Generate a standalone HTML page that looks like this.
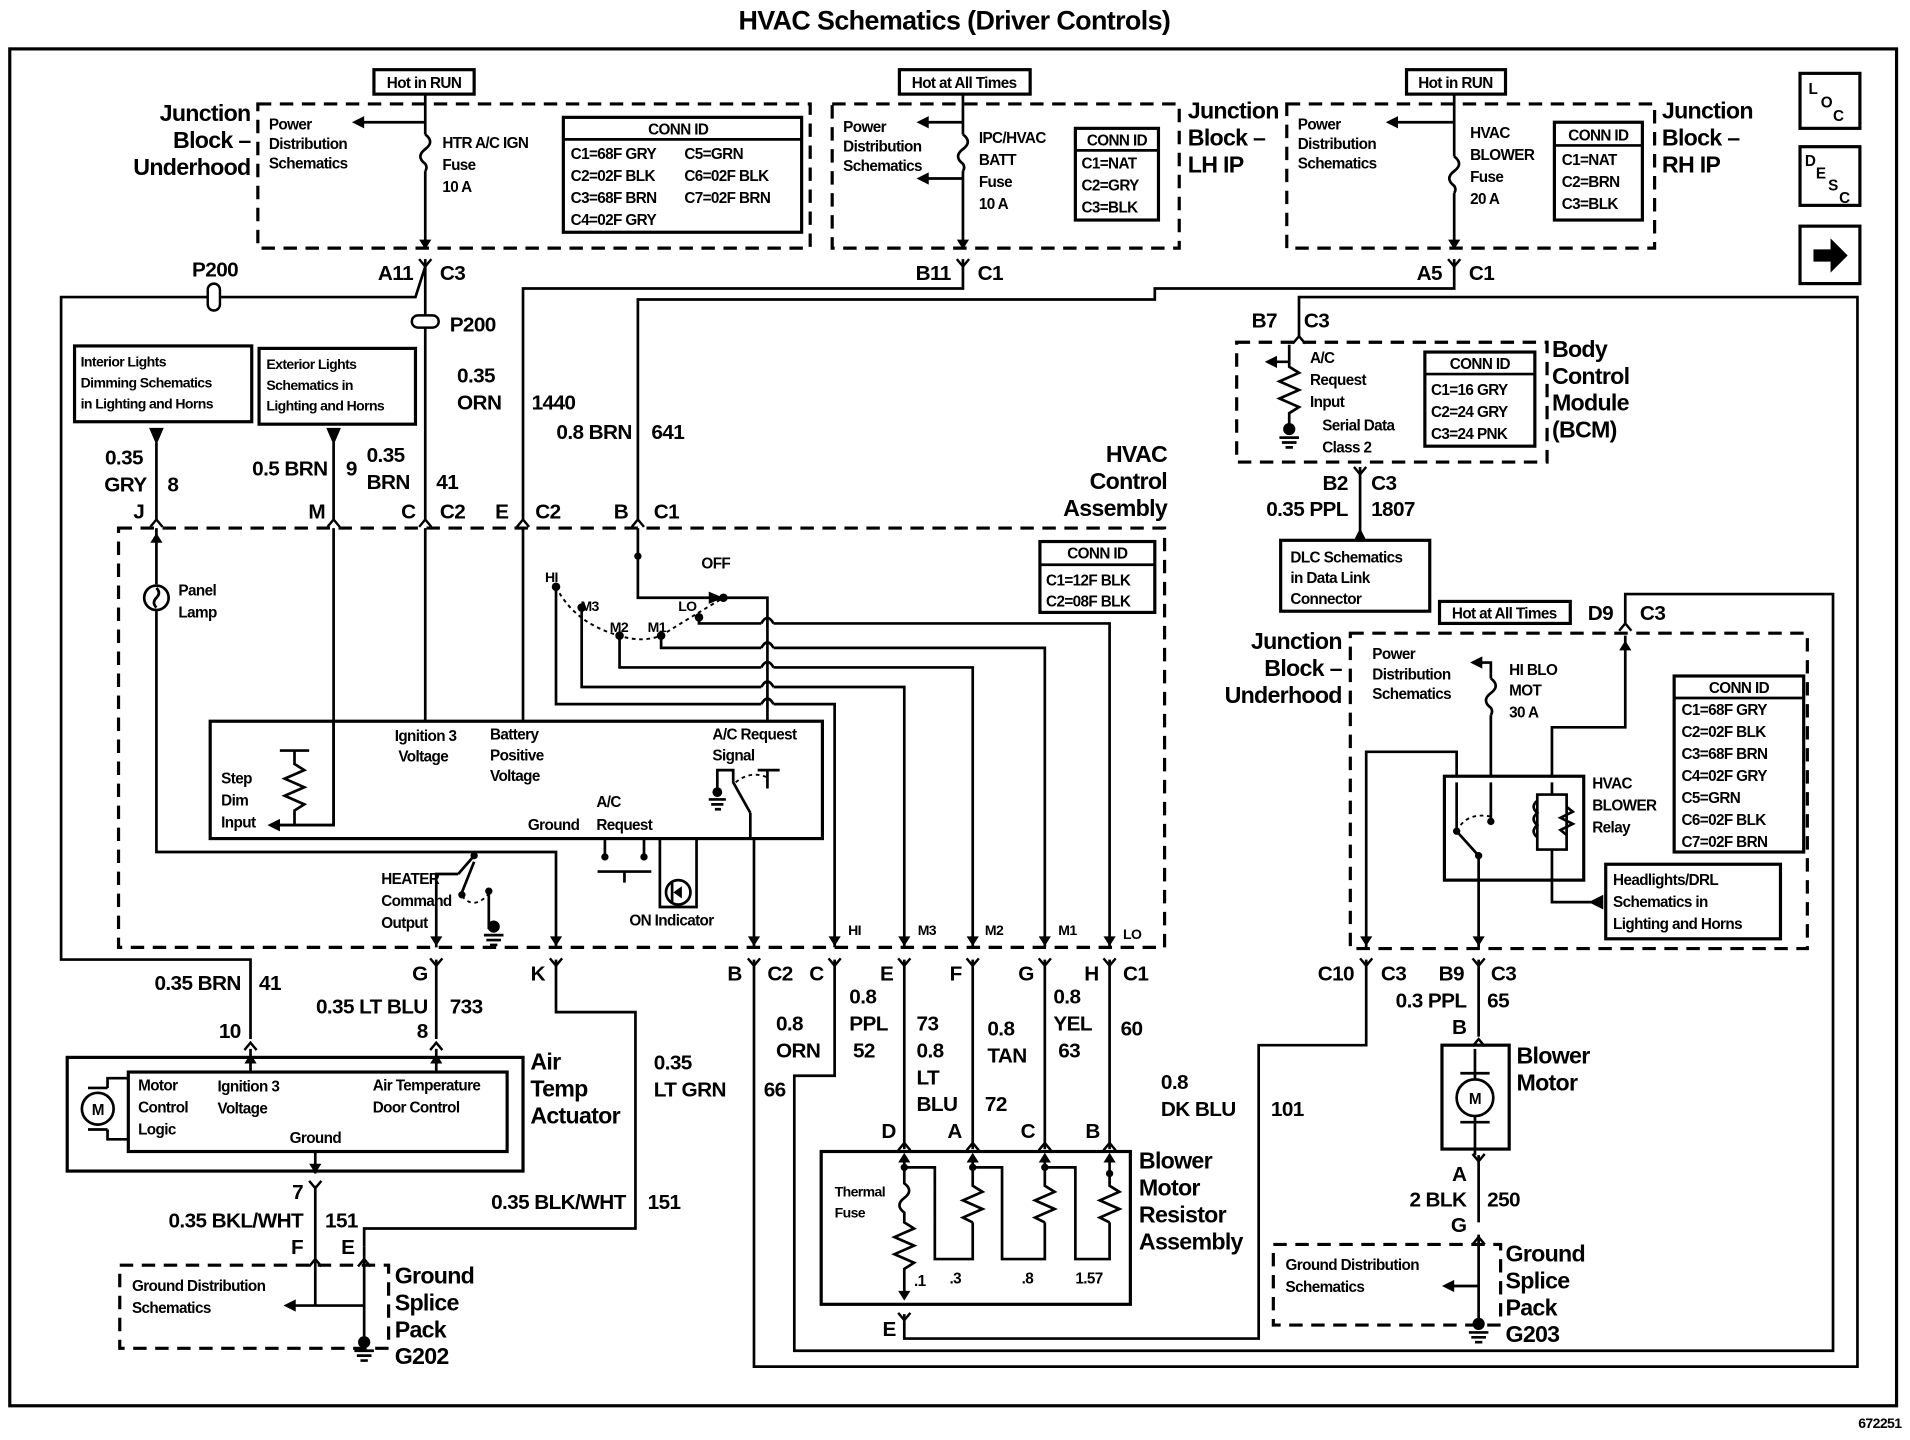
<!DOCTYPE html>
<html><head><meta charset="utf-8"><style>
html,body{margin:0;padding:0;background:#fff}
svg{display:block}
text{font-family:"Liberation Sans",Arial,sans-serif;font-weight:bold;fill:#000}
.b{font-size:19px;letter-spacing:-0.6px}
.m{font-size:17px;letter-spacing:-0.5px}
.s{font-size:12.5px;letter-spacing:-0.5px}
.x{font-size:11.5px;letter-spacing:-0.5px}
.w{fill:none;stroke:#000;stroke-width:2.2}
.d{fill:none;stroke:#000;stroke-width:2.6;stroke-dasharray:11,7}
.r{fill:none;stroke:#000;stroke-width:2.6}
.f{fill:#000}
</style></head><body>
<svg width="1910" height="1440" viewBox="0 0 1563 1178" preserveAspectRatio="none" xmlns="http://www.w3.org/2000/svg">
<defs>
<path id="cd" d="M-5,-6 L0,0 L5,-6" fill="none" stroke="#000" stroke-width="2"/>
<path id="cu" d="M-5,6 L0,0 L5,6" fill="none" stroke="#000" stroke-width="2"/>
</defs>
<text x="781" y="24" text-anchor="middle" style="font-size:22px;letter-spacing:-0.5px">HVAC Schematics (Driver Controls)</text>
<rect x="8" y="40" width="1544" height="1110" class="r" stroke-width="2"/>
<text x="1556" y="1168" text-anchor="end" class="x">672251</text>

<rect x="211" y="85" width="452" height="118" class="d"/>
<rect x="306" y="57" width="82" height="20" class="r" stroke-width="2"/>
<text x="347" y="72" text-anchor="middle" class="s">Hot in RUN</text>
<path class="w" d="M348,77 V110 M348,140 V200"/>
<path class="w" d="M348,110 q8,6 0,12 q-8,6 0,12 q2,3 0,6"/>
<path class="w" d="M348,100 H295"/><path class="f" d="M288,100 l10,-5 v10z"/>
<path class="f" d="M343,196 h10 l-5,8z"/>
<text class="s" x="220" y="106">Power</text><text class="s" x="220" y="122">Distribution</text><text class="s" x="220" y="138">Schematics</text>
<text class="s" x="362" y="121">HTR A/C IGN</text><text class="s" x="362" y="139">Fuse</text><text class="s" x="362" y="157">10 A</text>
<rect x="461" y="96" width="195" height="94" class="r"/><path class="w" d="M461,114 H656"/>
<text class="s" x="555" y="110" text-anchor="middle">CONN ID</text>
<text class="s" x="467" y="130">C1=68F GRY</text><text class="s" x="560" y="130">C5=GRN</text>
<text class="s" x="467" y="148">C2=02F BLK</text><text class="s" x="560" y="148">C6=02F BLK</text>
<text class="s" x="467" y="166">C3=68F BRN</text><text class="s" x="560" y="166">C7=02F BRN</text>
<text class="s" x="467" y="184">C4=02F GRY</text>
<text class="b" x="205" y="99" text-anchor="end">Junction</text><text class="b" x="205" y="121" text-anchor="end">Block –</text><text class="b" x="205" y="143" text-anchor="end">Underhood</text>

<rect x="681" y="85" width="284" height="118" class="d"/>
<rect x="736" y="57" width="107" height="20" class="r" stroke-width="2"/>
<text x="789" y="72" text-anchor="middle" class="s">Hot at All Times</text>
<path class="w" d="M788,77 V110 M788,140 V200 M788,100 H758 M788,146 H758"/>
<path class="w" d="M788,110 q8,6 0,12 q-8,6 0,12 q2,3 0,6"/>
<path class="f" d="M750,100 l10,-5 v10z M750,146 l10,-5 v10z M783,196 h10 l-5,8z"/>
<text class="s" x="690" y="108">Power</text><text class="s" x="690" y="124">Distribution</text><text class="s" x="690" y="140">Schematics</text>
<text class="s" x="801" y="117">IPC/HVAC</text><text class="s" x="801" y="135">BATT</text><text class="s" x="801" y="153">Fuse</text><text class="s" x="801" y="171">10 A</text>
<rect x="880" y="105" width="68" height="75" class="r"/><path class="w" d="M880,123 H948"/>
<text class="s" x="914" y="119" text-anchor="middle">CONN ID</text>
<text class="s" x="885" y="138">C1=NAT</text><text class="s" x="885" y="156">C2=GRY</text><text class="s" x="885" y="174">C3=BLK</text>
<text class="b" x="972" y="97">Junction</text><text class="b" x="972" y="119">Block –</text><text class="b" x="972" y="141">LH IP</text>

<rect x="1053" y="85" width="301" height="118" class="d"/>
<rect x="1151" y="57" width="81" height="20" class="r" stroke-width="2"/>
<text x="1191" y="72" text-anchor="middle" class="s">Hot in RUN</text>
<path class="w" d="M1190,77 V128 M1190,158 V200 M1190,100 H1142"/>
<path class="w" d="M1190,128 q8,6 0,12 q-8,6 0,12 q2,3 0,6"/>
<path class="f" d="M1134,100 l10,-5 v10z M1185,196 h10 l-5,8z"/>
<text class="s" x="1062" y="106">Power</text><text class="s" x="1062" y="122">Distribution</text><text class="s" x="1062" y="138">Schematics</text>
<text class="s" x="1203" y="113">HVAC</text><text class="s" x="1203" y="131">BLOWER</text><text class="s" x="1203" y="149">Fuse</text><text class="s" x="1203" y="167">20 A</text>
<rect x="1272" y="100" width="72" height="80" class="r"/><path class="w" d="M1272,119 H1344"/>
<text class="s" x="1308" y="115" text-anchor="middle">CONN ID</text>
<text class="s" x="1278" y="135">C1=NAT</text><text class="s" x="1278" y="153">C2=BRN</text><text class="s" x="1278" y="171">C3=BLK</text>
<text class="b" x="1360" y="97">Junction</text><text class="b" x="1360" y="119">Block –</text><text class="b" x="1360" y="141">RH IP</text>

<rect x="1473" y="60" width="49" height="45" class="r"/>
<text class="s" x="1480" y="77">L</text><text class="s" x="1490" y="88">O</text><text class="s" x="1500" y="99">C</text>
<rect x="1473" y="120" width="49" height="48" class="r"/>
<text class="s" x="1477" y="136">D</text><text class="s" x="1486" y="146">E</text><text class="s" x="1496" y="156">S</text><text class="s" x="1505" y="166">C</text>
<rect x="1473" y="185" width="49" height="47" class="r"/>
<path class="f" d="M1484,204 h14 v-9 l14,14 l-14,14 v-9 h-14z"/>

<use href="#cd" x="348" y="218"/><text class="m" x="338" y="229" text-anchor="end">A11</text><text class="m" x="360" y="229">C3</text>
<use href="#cd" x="788" y="218"/><text class="m" x="778" y="229" text-anchor="end">B11</text><text class="m" x="800" y="229">C1</text>
<use href="#cd" x="1190" y="218"/><text class="m" x="1180" y="229" text-anchor="end">A5</text><text class="m" x="1202" y="229">C1</text>

<path class="w" d="M348,212 V425 M348,218 L340,243 H50 V785 H205 V850"/>
<rect x="170" y="232" width="10" height="22" rx="5" fill="#fff" stroke="#000" stroke-width="2"/>
<text class="m" x="176" y="226" text-anchor="middle">P200</text>
<rect x="337" y="258" width="22" height="10" rx="5" fill="#fff" stroke="#000" stroke-width="2"/>
<text class="m" x="368" y="271">P200</text>
<path class="w" d="M788,212 V236 H428 V425"/>
<path class="w" d="M1190,212 V236 H945 V245 H522 V425"/>

<rect x="61" y="283" width="145" height="62" class="r"/>
<text class="x" x="66" y="300">Interior Lights</text><text class="x" x="66" y="317">Dimming Schematics</text><text class="x" x="66" y="334">in Lighting and Horns</text>
<rect x="212" y="285" width="128" height="62" class="r"/>
<text class="x" x="218" y="302">Exterior Lights</text><text class="x" x="218" y="319">Schematics in</text><text class="x" x="218" y="336">Lighting and Horns</text>
<path class="f" d="M122,350 h12 l-6,14z M267,350 h12 l-6,14z"/>
<path class="w" d="M128,362 V425 M273,362 V425"/>

<text class="m" x="117" y="380" text-anchor="end">0.35</text><text class="m" x="120" y="402" text-anchor="end">GRY</text><text class="m" x="137" y="402">8</text><text class="m" x="118" y="424" text-anchor="end">J</text>
<text class="m" x="268" y="389" text-anchor="end">0.5 BRN</text><text class="m" x="283" y="389">9</text><text class="m" x="266" y="424" text-anchor="end">M</text>
<text class="m" x="300" y="378">0.35</text><text class="m" x="300" y="400">BRN</text><text class="m" x="357" y="400">41</text><text class="m" x="340" y="424" text-anchor="end">C</text><text class="m" x="360" y="424">C2</text>
<text class="m" x="374" y="313">0.35</text><text class="m" x="374" y="335">ORN</text><text class="m" x="435" y="335">1440</text><text class="m" x="416" y="424" text-anchor="end">E</text><text class="m" x="438" y="424">C2</text>
<text class="m" x="517" y="359" text-anchor="end">0.8 BRN</text><text class="m" x="533" y="359">641</text><text class="m" x="514" y="424" text-anchor="end">B</text><text class="m" x="535" y="424">C1</text>
<use href="#cu" x="128" y="425"/><use href="#cu" x="273" y="425"/><use href="#cu" x="348" y="425"/><use href="#cu" x="428" y="425"/><use href="#cu" x="522" y="425"/>

<rect x="97" y="432" width="856" height="343" class="d"/>
<text class="b" x="955" y="378" text-anchor="end">HVAC</text><text class="b" x="955" y="400" text-anchor="end">Control</text><text class="b" x="955" y="422" text-anchor="end">Assembly</text>
<rect x="851" y="443" width="94" height="58" class="r"/><path class="w" d="M851,462 H945"/>
<text class="s" x="898" y="457" text-anchor="middle">CONN ID</text><text class="s" x="856" y="479">C1=12F BLK</text><text class="s" x="856" y="496">C2=08F BLK</text>
<path class="w" d="M128,432 V478 M128,500 V697 H455 V775"/>
<path class="f" d="M123,444 l5,-8 l5,8z"/>
<circle cx="128" cy="489" r="10" class="w"/><path class="w" d="M128,481 q4,4 0,8 q-4,4 0,8"/>
<text class="s" x="146" y="487">Panel</text><text class="s" x="146" y="505">Lamp</text>
<path class="w" d="M273,432 V675 H228"/><path class="f" d="M219,675 l10,-5 v10z"/>
<path class="w" d="M348,432 V590 M428,432 V590"/>
<path class="w" d="M522,432 V489 H592"/><circle cx="522" cy="455" r="3" class="f"/><path class="f" d="M580,484 l12,5 l-12,5z"/>
<text class="s" x="574" y="465">OFF</text>
<path class="w" d="M592,489 H628 V590"/>
<path fill="none" stroke="#000" stroke-width="1.6" stroke-dasharray="3,3" d="M455,480 Q470,510 507,520 Q525,526 541,520 Q565,505 592,489"/>
<g class="f"><circle cx="455" cy="480" r="3.5"/><circle cx="476" cy="497" r="3.5"/><circle cx="507" cy="520" r="3.5"/><circle cx="541" cy="520" r="3.5"/><circle cx="572" cy="505" r="3.5"/><circle cx="592" cy="489" r="3.5"/></g>
<text class="x" x="446" y="476">HI</text><text class="x" x="475" y="500">M3</text><text class="x" x="499" y="517">M2</text><text class="x" x="530" y="517">M1</text><text class="x" x="555" y="500">LO</text>
<path class="w" d="M572,505 V510 H623 M633,510 H908 V775"/>
<path class="w" d="M541,520 V530 H623 M633,530 H855 V775"/>
<path class="w" d="M507,520 V546 H623 M633,546 H796 V775"/>
<path class="w" d="M476,497 V562 H623 M633,562 H740 V775"/>
<path class="w" d="M455,480 V576 H623 M633,576 H683 V775"/>
<path class="w" d="M623,510 q5,-9 10,0 M623,530 q5,-9 10,0 M623,546 q5,-9 10,0 M623,562 q5,-9 10,0 M623,576 q5,-9 10,0"/>
<rect x="172" y="590" width="501" height="96" class="r" fill="#fff"/>
<path class="w" d="M241,614 V625 l8,5 l-16,7 l16,7 l-16,7 l16,7 l-8,5 V675 M229,614 H253 M273,590 V675 H228"/>
<path class="f" d="M219,675 l10,-5 v10z"/>
<text class="s" x="323" y="606">Ignition 3</text><text class="s" x="326" y="623">Voltage</text>
<text class="s" x="401" y="605">Battery</text><text class="s" x="401" y="622">Positive</text><text class="s" x="401" y="639">Voltage</text>
<text class="s" x="583" y="605">A/C Request</text><text class="s" x="583" y="622">Signal</text>
<text class="s" x="181" y="641">Step</text><text class="s" x="181" y="659">Dim</text><text class="s" x="181" y="677">Input</text>
<text class="s" x="488" y="660">A/C</text><text class="s" x="432" y="679">Ground</text><text class="s" x="488" y="679">Request</text>
<path class="w" d="M587,645 V630 H600 V640 L614,665 M614,665 V686 M628,645 V630 M620,630 H638"/>
<path fill="none" stroke="#000" stroke-width="1.5" stroke-dasharray="3,3" d="M602,640 Q614,630 628,636"/>
<circle cx="587" cy="648" r="4" class="f"/><path class="w" d="M580,654 H594 M582,658 H592 M585,662 H590"/>
<path class="w" d="M617,686 V775"/>
<path class="w" d="M495,686 V700 M527,686 V700 M489,713 H533 M511,713 V722"/>
<circle cx="495" cy="701" r="3" class="f"/><circle cx="527" cy="701" r="3" class="f"/>
<path class="w" d="M540,686 V742 H570 V686"/>
<circle cx="555" cy="730" r="10" class="w"/><path class="f" d="M551,730 l7,-5 v10z"/><path class="w" d="M550,722 V738"/>
<text class="s" x="515" y="757">ON Indicator</text>
<text class="s" x="312" y="723">HEATER</text><text class="s" x="312" y="741">Command</text><text class="s" x="312" y="759">Output</text>
<path class="w" d="M357,775 V715 H375 M400,729 V760 M375,715 L388,700 M378,730 L388,705"/>
<circle cx="388" cy="700" r="3" class="f"/><circle cx="378" cy="732" r="3" class="f"/><circle cx="400" cy="729" r="3" class="f"/>
<path fill="none" stroke="#000" stroke-width="1.5" stroke-dasharray="3,3" d="M378,733 Q388,745 400,731"/>
<circle cx="404" cy="758" r="5" class="f"/><path class="w" d="M396,765 H412 M398,769 H410 M401,773 H407"/>
<g class="f"><path d="M352,766 h10 l-5,8z M450,766 h10 l-5,8z M612,766 h10 l-5,8z M678,766 h10 l-5,8z M735,766 h10 l-5,8z M791,766 h10 l-5,8z M850,766 h10 l-5,8z M903,766 h10 l-5,8z"/></g>
<text class="x" x="694" y="765">HI</text><text class="x" x="751" y="765">M3</text><text class="x" x="806" y="765">M2</text><text class="x" x="866" y="765">M1</text><text class="x" x="919" y="768">LO</text>
<g><use href="#cd" x="357" y="790"/><use href="#cd" x="455" y="790"/><use href="#cd" x="617" y="790"/><use href="#cd" x="683" y="790"/><use href="#cd" x="740" y="790"/><use href="#cd" x="796" y="790"/><use href="#cd" x="855" y="790"/><use href="#cd" x="908" y="790"/></g>
<text class="m" x="350" y="802" text-anchor="end">G</text><text class="m" x="446" y="802" text-anchor="end">K</text>
<text class="m" x="607" y="802" text-anchor="end">B</text><text class="m" x="628" y="802">C2</text><text class="m" x="674" y="802" text-anchor="end">C</text>
<text class="m" x="731" y="802" text-anchor="end">E</text><text class="m" x="787" y="802" text-anchor="end">F</text><text class="m" x="846" y="802" text-anchor="end">G</text><text class="m" x="899" y="802" text-anchor="end">H</text><text class="m" x="919" y="802">C1</text>

<path class="w" d="M357,785 V850"/>
<text class="m" x="197" y="810" text-anchor="end">0.35 BRN</text><text class="m" x="212" y="810">41</text><text class="m" x="197" y="849" text-anchor="end">10</text>
<text class="m" x="350" y="829" text-anchor="end">0.35 LT BLU</text><text class="m" x="368" y="829">733</text><text class="m" x="350" y="849" text-anchor="end">8</text>
<path class="w" d="M455,785 V828 H520 V1005 H298 V1020"/>
<text class="m" x="512" y="989" text-anchor="end">0.35 BLK/WHT</text><text class="m" x="530" y="989">151</text>
<path class="w" d="M617,785 V1118 H1520 V243 H1063 V275"/>
<text class="m" x="535" y="875">0.35</text><text class="m" x="535" y="897">LT GRN</text><text class="m" x="625" y="897">66</text>
<path class="w" d="M683,785 V880 H650 V1105 H1500 V486 H1330 V510"/>
<text class="m" x="635" y="843">0.8</text><text class="m" x="635" y="865">ORN</text>
<path class="w" d="M740,785 V940 M796,785 V940 M855,785 V940 M908,785 V940"/>
<text class="m" x="695" y="821">0.8</text><text class="m" x="695" y="843">PPL</text><text class="m" x="698" y="865">52</text>
<text class="m" x="750" y="843">73</text><text class="m" x="750" y="865">0.8</text><text class="m" x="750" y="887">LT</text><text class="m" x="750" y="909">BLU</text>
<text class="m" x="808" y="847">0.8</text><text class="m" x="808" y="869">TAN</text><text class="m" x="806" y="909">72</text>
<text class="m" x="862" y="821">0.8</text><text class="m" x="862" y="843">YEL</text><text class="m" x="866" y="865">63</text><text class="m" x="917" y="847">60</text>
<g><use href="#cu" x="740" y="935"/><use href="#cu" x="796" y="935"/><use href="#cu" x="855" y="935"/><use href="#cu" x="908" y="935"/></g>
<text class="m" x="733" y="931" text-anchor="end">D</text><text class="m" x="787" y="931" text-anchor="end">A</text><text class="m" x="847" y="931" text-anchor="end">C</text><text class="m" x="900" y="931" text-anchor="end">B</text>
<rect x="672" y="942" width="253" height="125" class="r"/>
<text class="b" x="932" y="956">Blower</text><text class="b" x="932" y="978">Motor</text><text class="b" x="932" y="1000">Resistor</text><text class="b" x="932" y="1022">Assembly</text>
<text class="x" x="683" y="979">Thermal</text><text class="x" x="683" y="996">Fuse</text>
<path class="w" d="M740,945 V968 q8,6 0,12 q-8,6 0,12 V1000 l8,5 l-16,7 l16,7 l-16,7 l16,7 l-8,5 V1062 M740,955 H765 V1030 H796 V1000 M796,945 V970 l8,5 l-16,7 l16,7 l-16,7 l8,4 M796,955 H820 V1030 H855 V1000 M855,945 V970 l8,5 l-16,7 l16,7 l-16,7 l8,4 M855,955 H880 V1030 H908 V1000 M908,945 V970 l8,5 l-16,7 l16,7 l-16,7 l8,4"/>
<g class="f"><circle cx="740" cy="955" r="3"/><circle cx="796" cy="955" r="3"/><circle cx="855" cy="955" r="3"/><circle cx="908" cy="960" r="3"/><path d="M735,1056 h10 l-5,8z M735,951 l5,-8 l5,8z M791,951 l5,-8 l5,8z M850,951 l5,-8 l5,8z M903,951 l5,-8 l5,8z"/></g>
<text class="s" x="748" y="1052">.1</text><text class="s" x="777" y="1050">.3</text><text class="s" x="836" y="1050">.8</text><text class="s" x="880" y="1050">1.57</text>
<use href="#cd" x="740" y="1080"/><text class="m" x="733" y="1093" text-anchor="end">E</text>
<path class="w" d="M740,1075 V1095 H1030 V855 H1118 V785"/>
<text class="m" x="950" y="891">0.8</text><text class="m" x="950" y="913">DK BLU</text><text class="m" x="1040" y="913">101</text>

<rect x="55" y="865" width="373" height="93" class="r"/>
<rect x="105" y="877" width="310" height="65" class="r"/>
<circle cx="80" cy="907" r="13" class="w"/><text class="s" x="80" y="912" text-anchor="middle">M</text>
<path class="w" d="M72,890 h16 M72,924 h16 M88,890 V882 H105 M88,924 V932 H105"/>
<text class="s" x="113" y="892">Motor</text><text class="s" x="113" y="910">Control</text><text class="s" x="113" y="928">Logic</text>
<text class="s" x="178" y="893">Ignition 3</text><text class="s" x="178" y="911">Voltage</text>
<text class="s" x="305" y="892">Air Temperature</text><text class="s" x="305" y="910">Door Control</text><text class="s" x="237" y="935">Ground</text>
<text class="b" x="434" y="875">Air</text><text class="b" x="434" y="897">Temp</text><text class="b" x="434" y="919">Actuator</text>
<use href="#cu" x="205" y="853"/><use href="#cu" x="357" y="853"/>
<path class="w" d="M205,858 V877 M357,858 V877"/><path class="f" d="M200,870 l5,-8 l5,8z M352,870 l5,-8 l5,8z"/>
<path class="w" d="M258,942 V960 M258,970 V1068"/><path class="f" d="M253,952 h10 l-5,8z"/>
<use href="#cd" x="258" y="972"/>
<text class="m" x="248" y="981" text-anchor="end">7</text><text class="m" x="248" y="1004" text-anchor="end">0.35 BKL/WHT</text><text class="m" x="266" y="1004">151</text>
<text class="m" x="248" y="1026" text-anchor="end">F</text><text class="m" x="290" y="1026" text-anchor="end">E</text>
<use href="#cu" x="258" y="1030"/><use href="#cu" x="298" y="1030"/>
<path class="w" d="M298,1020 V1098 M240,1068 H298"/><path class="f" d="M232,1068 l10,-5 v10z"/>
<rect x="98" y="1035" width="220" height="68" class="d"/>
<text class="s" x="108" y="1056">Ground Distribution</text><text class="s" x="108" y="1074">Schematics</text>
<circle cx="298" cy="1098" r="5" class="f"/><path class="w" d="M290,1105 H306 M292,1109 H304 M295,1113 H301"/>
<text class="b" x="323" y="1050">Ground</text><text class="b" x="323" y="1072">Splice</text><text class="b" x="323" y="1094">Pack</text><text class="b" x="323" y="1116">G202</text>

<text class="m" x="1045" y="268" text-anchor="end">B7</text><text class="m" x="1067" y="268">C3</text>
<use href="#cu" x="1063" y="275"/>
<rect x="1012" y="280" width="254" height="98" class="d"/>
<path class="w" d="M1055,282 V300 l8,5 l-16,7 l16,7 l-16,7 l16,7 l-8,5 V348 M1055,296 H1043"/>
<path class="f" d="M1035,296 l10,-5 v10z"/><circle cx="1055" cy="351" r="5" class="f"/><path class="w" d="M1047,358 H1063 M1049,362 H1061 M1052,366 H1058"/>
<text class="s" x="1072" y="297">A/C</text><text class="s" x="1072" y="315">Request</text><text class="s" x="1072" y="333">Input</text><text class="s" x="1082" y="352">Serial Data</text><text class="s" x="1082" y="370">Class 2</text>
<rect x="1166" y="288" width="90" height="77" class="r"/><path class="w" d="M1166,306 H1256"/>
<text class="s" x="1211" y="302" text-anchor="middle">CONN ID</text><text class="s" x="1171" y="323">C1=16 GRY</text><text class="s" x="1171" y="341">C2=24 GRY</text><text class="s" x="1171" y="359">C3=24 PNK</text>
<text class="b" x="1270" y="292">Body</text><text class="b" x="1270" y="314">Control</text><text class="b" x="1270" y="336">Module</text><text class="b" x="1270" y="358">(BCM)</text>
<use href="#cd" x="1113" y="388"/>
<path class="w" d="M1113,382 V440"/><path class="f" d="M1108,442 l5,-10 l5,10z"/>
<text class="m" x="1103" y="401" text-anchor="end">B2</text><text class="m" x="1122" y="401">C3</text>
<text class="m" x="1103" y="422" text-anchor="end">0.35 PPL</text><text class="m" x="1122" y="422">1807</text>
<rect x="1048" y="442" width="122" height="58" class="r"/>
<text class="s" x="1056" y="460">DLC Schematics</text><text class="s" x="1056" y="477">in Data Link</text><text class="s" x="1056" y="494">Connector</text>

<rect x="1178" y="492" width="107" height="18" class="r" stroke-width="2"/>
<text class="s" x="1231" y="506" text-anchor="middle">Hot at All Times</text>
<text class="m" x="1320" y="507" text-anchor="end">D9</text><text class="m" x="1342" y="507">C3</text>
<use href="#cu" x="1330" y="510"/>
<text class="b" x="1098" y="531" text-anchor="end">Junction</text><text class="b" x="1098" y="553" text-anchor="end">Block –</text><text class="b" x="1098" y="575" text-anchor="end">Underhood</text>
<rect x="1105" y="518" width="374" height="258" class="d"/>
<text class="s" x="1123" y="539">Power</text><text class="s" x="1123" y="556">Distribution</text><text class="s" x="1123" y="572">Schematics</text>
<path class="w" d="M1220,635 V585 M1220,555 V542 H1212"/><path class="w" d="M1220,555 q8,6 0,12 q-8,6 0,12 q2,3 0,6"/>
<path class="f" d="M1203,542 l10,-5 v10z"/>
<text class="s" x="1235" y="552">HI BLO</text><text class="s" x="1235" y="569">MOT</text><text class="s" x="1235" y="587">30 A</text>
<path class="w" d="M1330,520 V595 H1270 V635 M1118,776 V615 H1192 V635"/>
<path class="f" d="M1325,532 l5,-8 l5,8z M1113,766 h10 l-5,8z M1205,766 h10 l-5,8z"/>
<rect x="1182" y="635" width="114" height="85" class="r"/>
<path class="w" d="M1192,640 V680 L1210,700 V720 M1220,640 V672 M1270,640 V650 M1258,650 H1282 V695 H1258 Z M1270,695 V720 M1210,720 V776 M1270,720 V738 H1302"/>
<path class="w" d="M1258,655 q-6,5 0,10 q-6,5 0,10 q-6,5 0,10" />
<path class="w" d="M1282,660 l5,4 l-10,5 l10,5 l-10,5 l5,4"/>
<g class="f"><circle cx="1192" cy="680" r="3"/><circle cx="1220" cy="672" r="3"/><circle cx="1210" cy="700" r="3"/><path d="M1300,738 l12,-6 v12z"/></g>
<path fill="none" stroke="#000" stroke-width="1.5" stroke-dasharray="3,3" d="M1192,680 Q1200,664 1220,668"/>
<text class="s" x="1303" y="645">HVAC</text><text class="s" x="1303" y="663">BLOWER</text><text class="s" x="1303" y="681">Relay</text>
<rect x="1370" y="553" width="106" height="144" class="r"/><path class="w" d="M1370,571 H1476"/>
<text class="s" x="1423" y="567" text-anchor="middle">CONN ID</text>
<text class="s" x="1376" y="585">C1=68F GRY</text><text class="s" x="1376" y="603">C2=02F BLK</text><text class="s" x="1376" y="621">C3=68F BRN</text><text class="s" x="1376" y="639">C4=02F GRY</text><text class="s" x="1376" y="657">C5=GRN</text><text class="s" x="1376" y="675">C6=02F BLK</text><text class="s" x="1376" y="693">C7=02F BRN</text>
<rect x="1314" y="707" width="143" height="61" class="r"/>
<text class="s" x="1320" y="724">Headlights/DRL</text><text class="s" x="1320" y="742">Schematics in</text><text class="s" x="1320" y="760">Lighting and Horns</text>
<use href="#cd" x="1118" y="790"/><use href="#cd" x="1210" y="790"/>
<text class="m" x="1108" y="802" text-anchor="end">C10</text><text class="m" x="1130" y="802">C3</text><text class="m" x="1198" y="802" text-anchor="end">B9</text><text class="m" x="1220" y="802">C3</text>
<path class="w" d="M1210,785 V848"/>
<text class="m" x="1200" y="824" text-anchor="end">0.3 PPL</text><text class="m" x="1217" y="824">65</text><text class="m" x="1200" y="846" text-anchor="end">B</text>
<use href="#cu" x="1210" y="850"/>
<rect x="1180" y="855" width="55" height="85" class="r"/>
<circle cx="1207" cy="898" r="15" class="w"/><text class="s" x="1207" y="903" text-anchor="middle">M</text>
<path class="w" d="M1195,878 h24 M1195,918 h24 M1207,858 V883 M1207,913 V945"/>
<text class="b" x="1241" y="870">Blower</text><text class="b" x="1241" y="892">Motor</text>
<use href="#cd" x="1210" y="950"/>
<path class="w" d="M1210,945 V1000 M1210,1010 V1083 M1188,1052 H1210"/>
<path class="f" d="M1180,1052 l10,-5 v10z"/>
<text class="m" x="1200" y="966" text-anchor="end">A</text><text class="m" x="1200" y="987" text-anchor="end">2 BLK</text><text class="m" x="1217" y="987">250</text><text class="m" x="1200" y="1008" text-anchor="end">G</text>
<use href="#cu" x="1210" y="1012"/>
<rect x="1042" y="1018" width="186" height="66" class="d"/>
<text class="s" x="1052" y="1039">Ground Distribution</text><text class="s" x="1052" y="1057">Schematics</text>
<circle cx="1210" cy="1083" r="5" class="f"/><path class="w" d="M1202,1090 H1218 M1204,1094 H1216 M1207,1098 H1213"/>
<text class="b" x="1232" y="1032">Ground</text><text class="b" x="1232" y="1054">Splice</text><text class="b" x="1232" y="1076">Pack</text><text class="b" x="1232" y="1098">G203</text>
</svg>
</body></html>
